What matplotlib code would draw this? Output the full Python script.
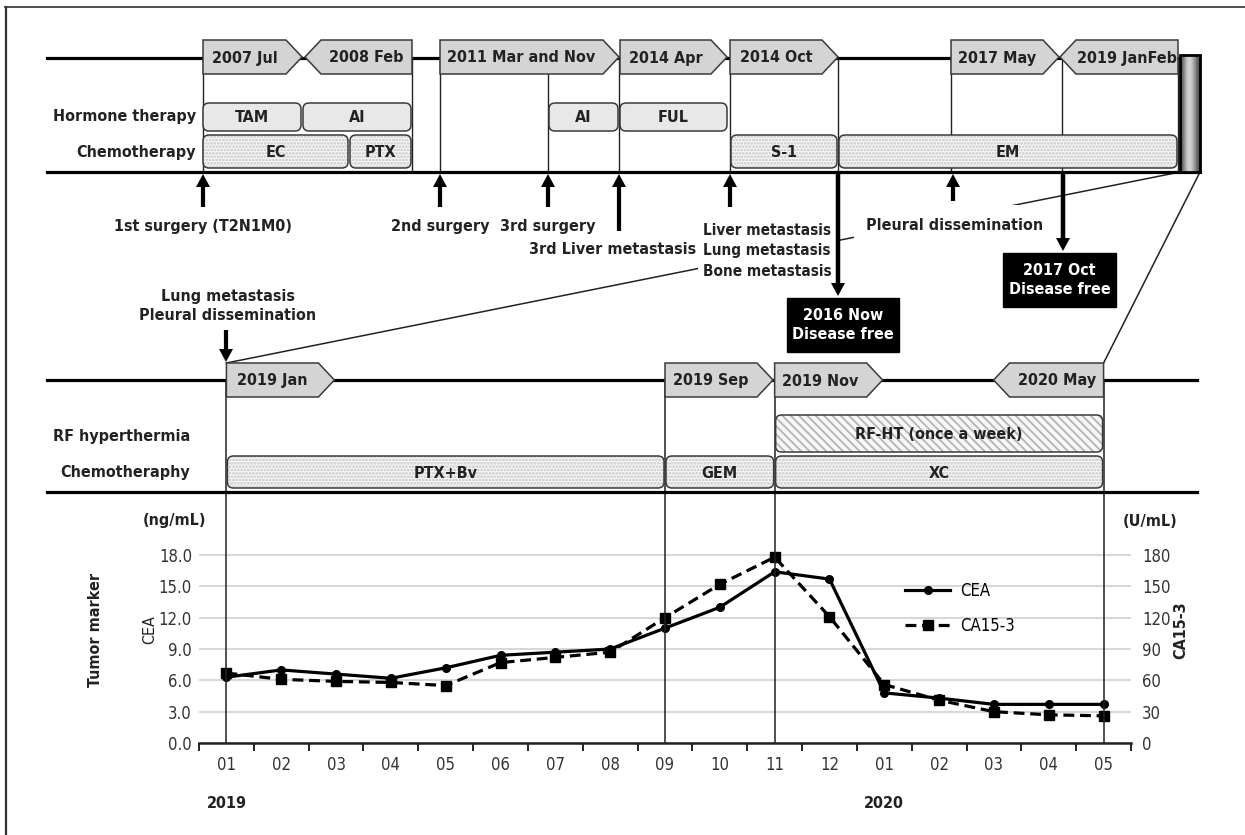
import matplotlib
matplotlib.use('Agg')
import matplotlib.pyplot as plt
import numpy as np
from matplotlib.patches import Polygon, FancyBboxPatch, Rectangle

plt.rcParams['font.family'] = ['DejaVu Sans']
plt.rcParams['font.stretch'] = 'condensed'
plt.rcParams['hatch.linewidth'] = 1.3

# ---- data ----
months = ['01', '02', '03', '04', '05', '06', '07', '08', '09', '10', '11', '12',
          '01', '02', '03', '04', '05']
cea = [6.3, 7.0, 6.6, 6.2, 7.2, 8.4, 8.7, 9.0, 11.0, 13.0, 16.4, 15.7,
       4.8, 4.3, 3.7, 3.7, 3.7]
ca153 = [67, 61, 59, 58, 55, 77, 82, 87, 120, 152, 178, 121,
         56, 41, 30, 27, 26]
cea_ticks = [0, 3, 6, 9, 12, 15, 18]
ca_ticks = [0, 30, 60, 90, 120, 150, 180]

# top timeline (pixel layout of the schematic)
top_tags = [('2007 Jul', 203, 302, 'r'), ('2008 Feb', 305, 412, 'l'),
            ('2011 Mar and Nov', 440, 619, 'r'), ('2014 Apr', 620, 727, 'r'),
            ('2014 Oct', 730, 838, 'r'), ('2017 May', 951, 1059, 'r'),
            ('2019 JanFeb', 1060, 1178, 'l')]
top_vlines = [203, 412, 440, 548, 619, 730, 838, 951, 1062, 1178]
hormone = [('TAM', 203, 301), ('AI', 303, 411), ('AI', 549, 618), ('FUL', 620, 727)]
chemo_top = [('EC', 203, 348), ('PTX', 350, 411), ('S-1', 731, 837), ('EM', 839, 1177)]
up_arrows = [(203, 207), (440, 207), (548, 207), (619, 231), (730, 207), (953, 201)]
up_labels = [('1st surgery (T2N1M0)', 203, 226), ('2nd surgery', 440, 226),
             ('3rd surgery', 548, 226), ('3rd Liver metastasis', 613, 250)]

# lower timeline, by month index
low_tags = [('2019 Jan', 0, 'r'), ('2019 Sep', 8, 'r'), ('2019 Nov', 10, 'r'), ('2020 May', 16, 'l')]
low_vlines = [0, 8, 10, 16]
rf_rows = [('RF-HT (once a week)', 10, 16)]
chemo_low = [('PTX+Bv', 0, 8), ('GEM', 8, 10), ('XC', 10, 16)]

W, H = 1245, 835
X0, X1 = 199, 1131          # chart x extent in pixels
Y0 = 743                    # chart baseline
PXU = 10.44                 # pixels per ng/mL
FS = 11.5


def mx(i):
    return X0 + (i + 0.5) * (X1 - X0) / len(months)


fig = plt.figure(figsize=(W / 100, H / 100), dpi=100)

# ---- chart ----
top_val = 19.8
cx = fig.add_axes([X0 / W, 1 - Y0 / H, (X1 - X0) / W, top_val * PXU / H])
cx.set_zorder(1)
x = np.arange(len(months))
l1, = cx.plot(x, cea, '-', color='black', lw=2.3, marker='o', ms=5.5, label='CEA', zorder=4)
cx.set_xlim(-0.5, len(months) - 0.5)
cx.set_ylim(0, top_val)
cx.set_yticks(cea_ticks)
cx.set_yticklabels([f'{v:.1f}' for v in cea_ticks])
cx.set_xticks(x)
cx.set_xticklabels(months)
cx.set_xticks(np.arange(-0.5, len(months)), minor=True)
cx.tick_params(axis='x', which='major', length=0, pad=9, labelsize=12, labelcolor='#333')
cx.tick_params(axis='x', which='minor', length=6, width=1.4, color='#222', direction='out')
cx.tick_params(axis='y', length=0, pad=5, labelsize=12, labelcolor='#333')
cx.grid(axis='y', color='#d8d8d8', lw=1.5)
cx.set_axisbelow(True)
for s in ['top', 'left', 'right']:
    cx.spines[s].set_visible(False)
cx.spines['bottom'].set_linewidth(1.8)
cx.spines['bottom'].set_color('#222')
cx.patch.set_visible(False)

tx = cx.twinx()
l2, = tx.plot(x, ca153, color='black', lw=2.3, dashes=(3.4, 1.8), marker='s', ms=6.5,
              label='CA15-3', zorder=4)
tx.set_ylim(0, top_val * 10)
tx.set_yticks(ca_ticks)
tx.tick_params(axis='y', length=0, pad=8, labelsize=12, labelcolor='#333')
for s in ['top', 'left', 'right', 'bottom']:
    tx.spines[s].set_visible(False)

fig.legend(handles=[l1, l2], loc='upper left', bbox_to_anchor=(905 / W, 1 - 582 / H),
           frameon=False, fontsize=12, handlelength=2.7, handletextpad=0.6,
           labelspacing=1.0, borderpad=0, borderaxespad=0)

# ---- schematic ----
ax = fig.add_axes([0, 0, 1, 1])
ax.set_zorder(2)
ax.patch.set_visible(False)
ax.axis('off')

TXT = '#222'
LW = 2.3
P = 16


def tag(label, x0, x1, d, yt, yb):
    ym = (yt + yb) / 2
    if d == 'r':
        pts = [(x0, yt), (x1 - P, yt), (x1, ym), (x1 - P, yb), (x0, yb)]
        c = (x0 + x1 - P) / 2
    else:
        pts = [(x0, ym), (x0 + P, yt), (x1, yt), (x1, yb), (x0 + P, yb)]
        c = (x0 + P + x1) / 2
    ax.add_patch(Polygon(pts, closed=True, fc='#d4d4d4', ec='#3a3a3a', lw=1.1, zorder=5))
    ax.text(c, ym + 1, label, ha='center', va='center', fontsize=FS,
            weight='bold', color=TXT, zorder=6)


def rbox(label, x0, x1, y0, y1, kind):
    kw = dict(boxstyle='round,pad=0,rounding_size=6', zorder=4)
    if kind == 'solid':
        ax.add_patch(FancyBboxPatch((x0, y0), x1 - x0, y1 - y0, fc='#e8e8e8',
                                    ec='#3a3a3a', lw=1.1, **kw))
    else:
        if kind == 'dots':
            hatch, hc = '.....', '#c4c4c4'
        else:
            hatch, hc = '\\\\\\\\', '#b5b5b5'
        ax.add_patch(FancyBboxPatch((x0, y0), x1 - x0, y1 - y0, fc='#f7f7f7',
                                    ec=hc, lw=0, hatch=hatch, **kw))
        ax.add_patch(FancyBboxPatch((x0, y0), x1 - x0, y1 - y0, fc='none',
                                    ec='#3a3a3a', lw=1.1, **kw))
    ax.text((x0 + x1) / 2, (y0 + y1) / 2 + 1, label, ha='center', va='center',
            fontsize=FS, weight='bold', color=TXT, zorder=6)


def arrow(xa, ya, yb, w=4.2):
    ax.arrow(xa, ya, 0, yb - ya, width=w, head_width=14, head_length=13,
             length_includes_head=True, fc='black', ec='black', lw=0, zorder=6)


def label(xl, yl, s, **kw):
    kw.setdefault('ha', 'center')
    kw.setdefault('weight', 'bold')
    kw.setdefault('zorder', 6)
    kw.setdefault('fontsize', FS)
    ax.text(xl, yl, s, va='center', color=TXT, **kw)


# frame
ax.plot([5, W], [7, 7], color='#333', lw=1.2)
ax.plot([6, 6], [7, H], color='#333', lw=1.6)

# top section
ax.plot([47, 1180], [58, 58], color='black', lw=LW, zorder=3)
ax.plot([47, 1200], [172, 172], color='black', lw=LW, zorder=3)
for xv in top_vlines:
    ax.plot([xv, xv], [58, 172], color='#222', lw=1.0, zorder=2)
for lab, a, b, d in top_tags:
    tag(lab, a, b, d, 40, 74)
for lab, a, b in hormone:
    rbox(lab, a, b, 103, 131, 'solid')
for lab, a, b in chemo_top:
    rbox(lab, a, b, 135, 168, 'dots')
label(196, 117, 'Hormone therapy', ha='right')
label(196, 153, 'Chemotherapy', ha='right')

grad = np.array([[0.3, 0.5, 0.72, 0.85, 0.8, 0.65, 0.48, 0.3]])
ax.imshow(grad, extent=(1180, 1200, 172, 55), cmap='gray', vmin=0, vmax=1,
          aspect='auto', interpolation='bicubic', zorder=4)
ax.add_patch(Rectangle((1180, 55), 20, 117, fc='none', ec='black', lw=2, zorder=5))

for xa, yb in up_arrows:
    arrow(xa, yb, 174)
label(703, 251, 'Liver metastasis\nLung metastasis\nBone metastasis', ha='left',
      fontsize=11, linespacing=1.45, bbox=dict(fc='white', ec='none', pad=4))
for lab, xl, yl in up_labels:
    label(xl, yl, lab, zorder=7)
label(955, 225, 'Pleural dissemination', bbox=dict(fc='white', ec='none', pad=9))

# disease-free callouts
arrow(838, 172, 296, w=4.5)
ax.add_patch(Rectangle((787, 298), 112, 54, fc='black', ec='black', zorder=6))
ax.text(843, 325, '2016 Now\nDisease free', ha='center', va='center', color='white',
        fontsize=FS, weight='bold', linespacing=1.35, zorder=7)
arrow(1063, 172, 251, w=4.5)
ax.add_patch(Rectangle((1003, 253), 113, 54, fc='black', ec='black', zorder=6))
ax.text(1059.5, 280, '2017 Oct\nDisease free', ha='center', va='center', color='white',
        fontsize=FS, weight='bold', linespacing=1.35, zorder=7)

# zoom connectors
ax.plot([1180, mx(0)], [172, 363], color='#222', lw=1.1, zorder=1)
ax.plot([1200, mx(16)], [172, 363], color='#222', lw=1.1, zorder=1)

# lower section
label(228, 306, 'Lung metastasis\nPleural dissemination', linespacing=1.35)
arrow(226, 330, 362)
ax.plot([47, 1197], [380, 380], color='black', lw=LW, zorder=3)
ax.plot([47, 1197], [492, 492], color='black', lw=LW, zorder=3)
for i in low_vlines:
    ax.plot([mx(i), mx(i)], [380, Y0], color='#222', lw=1.1, zorder=2)
for lab, i, d in low_tags:
    if d == 'r':
        tag(lab, mx(i), mx(i) + 108, d, 363, 397)
    else:
        tag(lab, mx(i) - 110, mx(i), d, 363, 397)
for lab, a, b in rf_rows:
    rbox(lab, mx(a) + 1, mx(b) - 1, 415, 452, 'lines')
for lab, a, b in chemo_low:
    rbox(lab, mx(a) + 1, mx(b) - 1, 456, 488, 'dots')
label(190, 436, 'RF hyperthermia', ha='right')
label(190, 473, 'Chemotheraphy', ha='right')

# chart annotations
label(175, 521, '(ng/mL)')
label(1150, 521, '(U/mL)')
label(95, 630, 'Tumor marker', rotation=90)
label(150, 630, 'CEA', rotation=90, weight='normal')
label(1181, 630, 'CA15-3', rotation=90)
label(mx(0), 803, '2019')
label(mx(12), 803, '2020')

ax.set_xlim(0, W)
ax.set_ylim(H, 0)

fig.savefig('out.png', dpi=100)
